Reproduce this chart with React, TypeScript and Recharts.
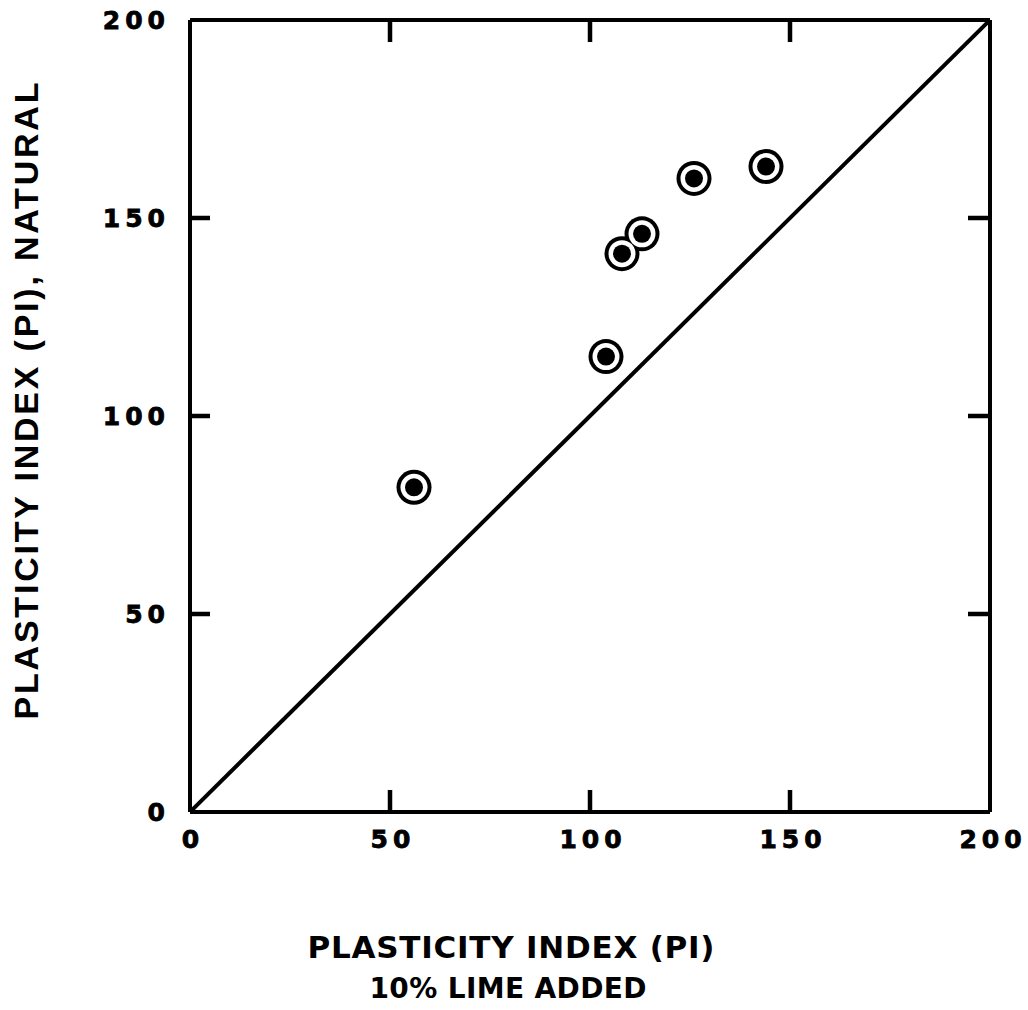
import React from 'react';
import { ScatterChart, Scatter, XAxis, YAxis } from 'recharts';

// PI with 10% lime (x) vs natural PI (y)
const limePI = [56, 104, 108, 113, 126, 144];
const naturalPI = [82, 115, 141, 146, 160, 163];
const axisTicks = [0, 50, 100, 150, 200];
const unityLineX = [0, 200];

const points = limePI.map((x, i) => ({ x, y: naturalPI[i] }));
const unityLine = unityLineX.map((v) => ({ x: v, y: v }));

const FONT = '"DejaVu Sans", sans-serif';
const TITLE_FONT = '"Liberation Sans", Arial, sans-serif';
const TICK_LEN = 22;
const TICK_W = 4.5;

const CHART_W = 1028;
const CHART_H = 1010;
const MARGIN = { top: 19, right: 37, bottom: 197, left: 0 };
const LEFT_AXIS_W = 190;
// plot box size, used to mirror the inward ticks onto the opposite side
const PLOT_W = CHART_W - LEFT_AXIS_W - MARGIN.right - 1;
const PLOT_H = CHART_H - MARGIN.top - MARGIN.bottom - 2;

const isInner = (v: number) => v > 0 && v < 200;

const BottomTick = (props: any) => {
  const { x, y, payload } = props;
  const inner = isInner(payload.value);
  return (
    <g>
      {inner && <line x1={x} y1={y} x2={x} y2={y - TICK_LEN} stroke="#000" strokeWidth={TICK_W} />}
      {inner && (
        <line x1={x} y1={y - PLOT_H} x2={x} y2={y - PLOT_H + TICK_LEN} stroke="#000" strokeWidth={TICK_W} />
      )}
      <text x={x + 3} y={y + 36} textAnchor="middle" fontFamily={FONT} fontWeight="bold" fontSize={25} letterSpacing={5} fill="#000" stroke="#000" strokeWidth={0.8}>
        {payload.value}
      </text>
    </g>
  );
};

const LeftTick = (props: any) => {
  const { x, y, payload } = props;
  return (
    <text x={x - 20} y={y + 9} textAnchor="end" fontFamily={FONT} fontWeight="bold" fontSize={25} letterSpacing={5} fill="#000" stroke="#000" strokeWidth={0.8}>
      {payload.value}
    </text>
  );
};

const RightTick = (props: any) => {
  const { x, y, payload } = props;
  if (!isInner(payload.value)) return <g />;
  return (
    <g>
      <line x1={x} y1={y} x2={x - TICK_LEN} y2={y} stroke="#000" strokeWidth={TICK_W} />
      <line x1={x - PLOT_W} y1={y} x2={x - PLOT_W + 20} y2={y} stroke="#000" strokeWidth={TICK_W} />
    </g>
  );
};

const ringShape = (r: number, fill: string) => (props: any) => {
  const { cx, cy } = props;
  return <circle cx={cx} cy={cy} r={r} fill={fill} />;
};

const axisLine = { stroke: '#000', strokeWidth: 4 };

export default function App() {
  return (
    <div style={{ position: 'absolute', left: 0, top: 0, width: CHART_W, height: CHART_H, background: '#fff' }}>
      <ScatterChart width={CHART_W} height={CHART_H} margin={MARGIN}>
        <XAxis
          xAxisId="b"
          dataKey="x"
          type="number"
          orientation="bottom"
          domain={[0, 200]}
          ticks={axisTicks}
          interval={0}
          allowDataOverflow
          height={1}
          tickSize={0}
          tickMargin={0}
          tickLine={false}
          axisLine={axisLine}
          tick={<BottomTick />}
        />
        <XAxis
          xAxisId="t"
          type="number"
          orientation="top"
          domain={[0, 200]}
          ticks={axisTicks}
          allowDataOverflow
          height={1}
          tickLine={false}
          axisLine={axisLine}
          tick={false}
        />
        <YAxis
          yAxisId="l"
          dataKey="y"
          type="number"
          orientation="left"
          domain={[0, 200]}
          ticks={axisTicks}
          interval={0}
          allowDataOverflow
          width={LEFT_AXIS_W}
          tickSize={0}
          tickMargin={0}
          tickLine={false}
          axisLine={axisLine}
          tick={<LeftTick />}
        />
        <YAxis
          yAxisId="r"
          type="number"
          orientation="right"
          domain={[0, 200]}
          ticks={axisTicks}
          interval={0}
          allowDataOverflow
          width={1}
          tickSize={0}
          tickMargin={0}
          tickLine={false}
          axisLine={axisLine}
          tick={<RightTick />}
        />
        <Scatter
          xAxisId="b"
          yAxisId="l"
          data={unityLine}
          line={{ stroke: '#000', strokeWidth: 4 }}
          shape={() => <g />}
          isAnimationActive={false}
        />
        <Scatter xAxisId="b" yAxisId="l" data={points} shape={ringShape(17.5, '#000')} isAnimationActive={false} />
        <Scatter xAxisId="b" yAxisId="l" data={points} shape={ringShape(13.5, '#fff')} isAnimationActive={false} />
        <Scatter xAxisId="b" yAxisId="l" data={points} shape={ringShape(9, '#000')} isAnimationActive={false} />
        <text
          x={38}
          y={401}
          transform="rotate(-90, 38, 401)"
          textAnchor="middle"
          fontFamily={TITLE_FONT}
          fontWeight="bold"
          fontSize={34}
          textLength={637}
          lengthAdjust="spacing"
          fill="#000"
        >
          PLASTICITY INDEX (PI), NATURAL
        </text>
        <text x={511} y={958} textAnchor="middle" fontFamily={FONT} fontWeight="bold" fontSize={31} textLength={407} lengthAdjust="spacing" fill="#000">
          PLASTICITY INDEX (PI)
        </text>
        <text x={508} y={998} textAnchor="middle" fontFamily={FONT} fontWeight="bold" fontSize={28} textLength={277} lengthAdjust="spacing" fill="#000">
          10% LIME ADDED
        </text>
      </ScatterChart>
    </div>
  );
}
